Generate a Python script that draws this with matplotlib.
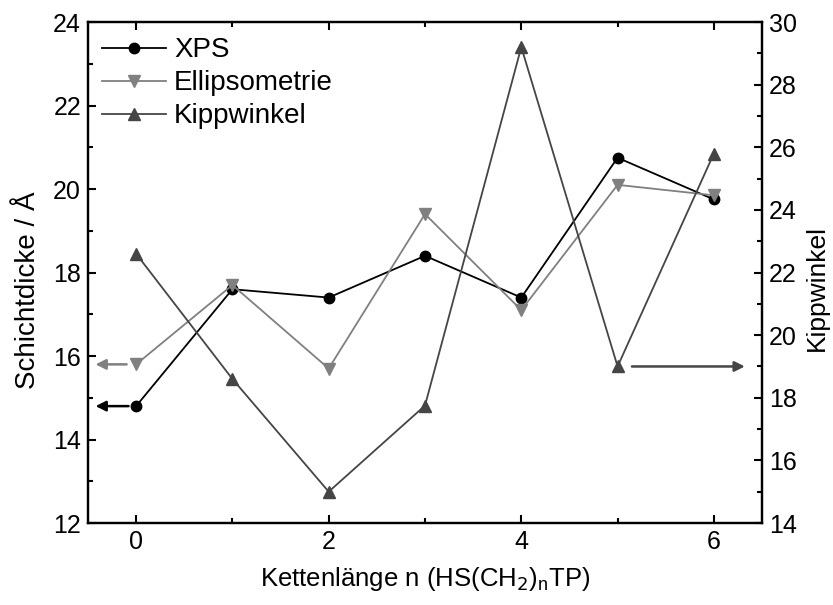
import numpy as np
import matplotlib.pyplot as plt

plt.rcParams['font.family'] = ['Liberation Sans', 'DejaVu Sans']

# chain length n
n = [0, 1, 2, 3, 4, 5, 6]
# layer thickness in Angstrom
xps = [14.8, 17.6, 17.4, 18.4, 17.4, 20.75, 19.75]
ellipso = [15.8, 17.7, 15.7, 19.4, 17.1, 20.1, 19.85]
# tilt angle in degrees
kipp = [22.6, 18.6, 15.0, 17.75, 29.2, 19.0, 25.8]

c_xps = 'black'
c_ell = '#808080'
c_kipp = '#454545'

fig = plt.figure(figsize=(8.33, 6.05), dpi=100)
ax1 = fig.add_axes([0.1056, 0.1355, 0.8092, 0.8281])
ax2 = ax1.twinx()

l1, = ax1.plot(n, xps, '-o', color=c_xps, lw=1.3, ms=7.5, label='XPS')
l2, = ax1.plot(n, ellipso, '-v', color=c_ell, lw=1.3, ms=8.5, label='Ellipsometrie')
l3, = ax2.plot(n, kipp, '-^', color=c_kipp, lw=1.3, ms=8.5, label='Kippwinkel')

ax1.set_xlim(-0.5, 6.5)
ax1.set_ylim(12, 24)
ax2.set_ylim(14, 30)
ax1.set_xticks([0, 2, 4, 6])
ax1.set_xticks([1, 3, 5], minor=True)
ax1.set_yticks(np.arange(12, 25, 2))
ax1.set_yticks(np.arange(13, 24, 2), minor=True)
ax2.set_yticks(np.arange(14, 31, 2))
ax2.set_yticks(np.arange(15, 30, 2), minor=True)

ax1.tick_params(which='both', direction='in', top=True, labelsize=18, width=1.5, pad=5)
ax1.tick_params(which='major', length=6)
ax1.tick_params(which='minor', length=3.5)
ax2.tick_params(which='both', direction='in', labelsize=18, width=1.5, pad=5)
ax2.tick_params(which='major', length=6)
ax2.tick_params(which='minor', length=3.5)
for ax in (ax1, ax2):
    for s in ax.spines.values():
        s.set_linewidth(1.6)

ax1.set_xlabel('Kettenlänge n (HS(CH$_2$)$_\\mathregular{n}$TP)', fontsize=18.5, labelpad=8)
ax1.set_ylabel('Schichtdicke / Å', fontsize=20, labelpad=9)
ax2.set_ylabel('Kippwinkel', fontsize=19, labelpad=6)
ax1.yaxis.label.set_y(0.465)
ax2.yaxis.label.set_y(0.47)

# arrows pointing at the axis each series belongs to
ax1.annotate('', xy=(-0.45, xps[0]), xytext=(-0.05, xps[0]),
             arrowprops=dict(arrowstyle='-|>', color=c_xps, lw=1.8, mutation_scale=15))
ax1.annotate('', xy=(-0.45, ellipso[0]), xytext=(-0.07, ellipso[0]),
             arrowprops=dict(arrowstyle='-|>', color=c_ell, lw=1.8, mutation_scale=15))
ax2.annotate('', xy=(6.35, kipp[5]), xytext=(5.12, kipp[5]),
             arrowprops=dict(arrowstyle='-|>', color=c_kipp, lw=1.8, mutation_scale=15))

ax2.legend(handles=[l1, l2, l3], loc='upper left', frameon=False, fontsize=20,
           handlelength=2.3, handletextpad=0.3, labelspacing=0.25,
           borderpad=0.4, borderaxespad=0.1, bbox_to_anchor=(0.0, 0.997))

fig.savefig('out.png', dpi=100)
